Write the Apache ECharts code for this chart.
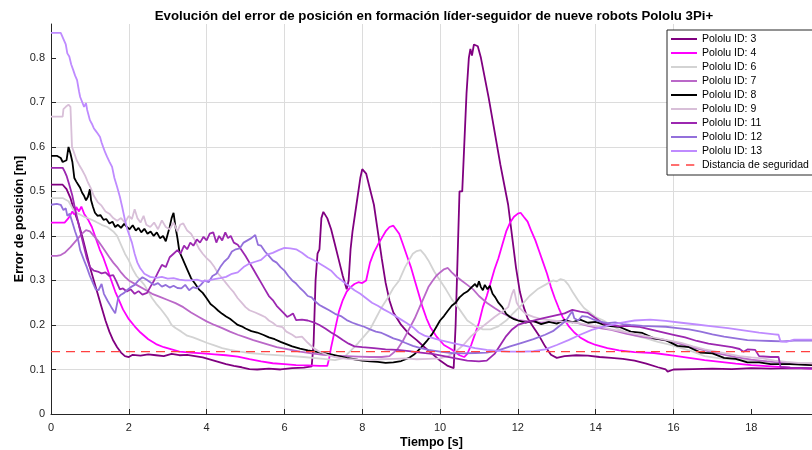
<!DOCTYPE html>
<html><head><meta charset="utf-8">
<script src="https://cdn.jsdelivr.net/npm/echarts@6/dist/echarts.min.js"></script>
<style>html,body{margin:0;padding:0;background:#fff}#c{width:812px;height:450px}</style>
</head><body><div id="c"></div>
<script>
const titleText = 'Evolución del error de posición en formación líder-seguidor de nueve robots Pololu 3Pi+';
const xName = 'Tiempo [s]';
const yName = 'Error de posición [m]';
const xTicks = [0,2,4,6,8,10,12,14,16,18];
const yTicks = [0,0.1,0.2,0.3,0.4,0.5,0.6,0.7,0.8];
const seriesNames = ['Pololu ID: 3','Pololu ID: 4','Pololu ID: 6','Pololu ID: 7','Pololu ID: 8','Pololu ID: 9','Pololu ID: 11','Pololu ID: 12','Pololu ID: 13'];
const safetyName = 'Distancia de seguridad';
const safetyValue = 0.14;
const tEnd = 19.56;

const s3 = [[0,0.515],[0.3,0.515],[0.4,0.505],[0.5,0.485],[0.6,0.455],[0.7,0.43],[0.8,0.4],[0.9,0.365],[1.0,0.33],[1.1,0.3],[1.2,0.27],[1.3,0.24],[1.4,0.21],[1.5,0.185],[1.6,0.165],[1.7,0.15],[1.8,0.138],[1.9,0.13],[2.0,0.128],[2.1,0.133],[2.3,0.131],[2.5,0.134],[2.7,0.132],[2.9,0.13],[3.1,0.135],[3.3,0.132],[3.5,0.133],[3.7,0.13],[3.9,0.127],[4.1,0.122],[4.3,0.117],[4.5,0.112],[4.7,0.108],[4.9,0.105],[5.1,0.101],[5.3,0.1],[5.6,0.102],[5.9,0.1],[6.2,0.103],[6.5,0.104],[6.7,0.107],[6.75,0.16],[6.8,0.3],[6.85,0.36],[6.9,0.37],[6.95,0.44],[7.0,0.454],[7.1,0.44],[7.2,0.415],[7.3,0.38],[7.4,0.345],[7.5,0.31],[7.6,0.28],[7.65,0.3],[7.7,0.37],[7.75,0.41],[7.85,0.47],[7.95,0.53],[8.0,0.55],[8.05,0.553],[8.1,0.54],[8.2,0.505],[8.3,0.47],[8.4,0.41],[8.5,0.35],[8.6,0.295],[8.7,0.255],[8.8,0.228],[9.0,0.2],[9.2,0.18],[9.4,0.166],[9.6,0.15],[9.8,0.135],[10.0,0.12],[10.2,0.108],[10.35,0.103],[10.4,0.2],[10.45,0.35],[10.5,0.5],[10.57,0.5],[10.62,0.6],[10.68,0.72],[10.74,0.8],[10.78,0.82],[10.82,0.805],[10.87,0.83],[10.92,0.834],[10.97,0.826],[11.05,0.8],[11.15,0.755],[11.25,0.71],[11.35,0.66],[11.45,0.61],[11.55,0.56],[11.65,0.515],[11.75,0.47],[11.85,0.4],[11.95,0.33],[12.05,0.275],[12.15,0.24],[12.25,0.215],[12.4,0.195],[12.55,0.175],[12.7,0.152],[12.85,0.133],[13.0,0.126],[13.2,0.13],[13.5,0.132],[13.8,0.131],[14.1,0.128],[14.4,0.126],[14.7,0.124],[15.0,0.12],[15.3,0.113],[15.6,0.105],[15.8,0.1],[15.85,0.095],[16.0,0.1],[16.5,0.101],[17.0,0.102],[17.5,0.101],[18.0,0.103],[18.5,0.102],[19.0,0.103],[19.56,0.102]];

const s4 = [[0,0.43],[0.35,0.43],[0.45,0.44],[0.55,0.455],[0.6,0.448],[0.65,0.465],[0.72,0.455],[0.78,0.466],[0.85,0.45],[0.95,0.437],[1.05,0.42],[1.15,0.395],[1.25,0.37],[1.35,0.35],[1.45,0.325],[1.55,0.3],[1.65,0.275],[1.75,0.255],[1.85,0.235],[2.0,0.213],[2.15,0.197],[2.3,0.183],[2.5,0.168],[2.7,0.157],[2.9,0.15],[3.1,0.145],[3.3,0.14],[3.6,0.138],[3.9,0.136],[4.2,0.134],[4.5,0.132],[4.8,0.129],[5.1,0.123],[5.4,0.118],[5.7,0.114],[6.0,0.112],[6.3,0.11],[6.6,0.109],[6.9,0.108],[7.1,0.108],[7.15,0.125],[7.2,0.15],[7.3,0.19],[7.4,0.23],[7.5,0.256],[7.6,0.275],[7.7,0.285],[7.8,0.292],[7.9,0.296],[8.0,0.294],[8.1,0.3],[8.2,0.34],[8.3,0.363],[8.4,0.38],[8.5,0.395],[8.6,0.41],[8.7,0.42],[8.8,0.423],[8.85,0.42],[8.95,0.405],[9.05,0.38],[9.15,0.355],[9.25,0.33],[9.35,0.3],[9.45,0.27],[9.55,0.24],[9.65,0.215],[9.75,0.195],[9.9,0.175],[10.1,0.155],[10.3,0.145],[10.5,0.132],[10.62,0.128],[10.7,0.135],[10.8,0.155],[10.9,0.18],[11.0,0.205],[11.1,0.24],[11.2,0.265],[11.3,0.295],[11.4,0.325],[11.5,0.35],[11.6,0.38],[11.7,0.41],[11.8,0.43],[11.9,0.443],[12.0,0.45],[12.07,0.452],[12.15,0.443],[12.25,0.432],[12.35,0.41],[12.45,0.39],[12.55,0.365],[12.65,0.34],[12.75,0.315],[12.85,0.285],[12.95,0.26],[13.05,0.238],[13.15,0.218],[13.3,0.198],[13.45,0.183],[13.6,0.172],[13.8,0.162],[14.0,0.155],[14.3,0.148],[14.6,0.143],[15.0,0.139],[15.5,0.137],[16.0,0.131],[16.4,0.126],[16.8,0.121],[17.2,0.117],[17.6,0.113],[18.0,0.11],[18.5,0.107],[19.0,0.104],[19.56,0.102]];

const s6 = [[0,0.485],[0.3,0.485],[0.45,0.478],[0.6,0.455],[0.7,0.45],[0.85,0.443],[1.0,0.438],[1.15,0.432],[1.3,0.425],[1.45,0.42],[1.6,0.41],[1.7,0.4],[1.8,0.38],[1.9,0.36],[2.0,0.345],[2.1,0.325],[2.2,0.31],[2.3,0.3],[2.4,0.29],[2.5,0.275],[2.6,0.26],[2.7,0.248],[2.8,0.238],[2.9,0.227],[3.0,0.215],[3.1,0.2],[3.2,0.193],[3.35,0.185],[3.5,0.176],[3.65,0.172],[3.8,0.167],[4.0,0.16],[4.2,0.154],[4.4,0.148],[4.6,0.144],[4.86,0.14],[5.1,0.137],[5.5,0.134],[6.0,0.131],[6.5,0.128],[7.0,0.124],[7.3,0.121],[7.5,0.125],[7.7,0.142],[7.9,0.16],[8.05,0.175],[8.2,0.19],[8.35,0.215],[8.5,0.24],[8.65,0.26],[8.8,0.283],[8.95,0.3],[9.1,0.33],[9.2,0.345],[9.3,0.36],[9.4,0.366],[9.5,0.368],[9.6,0.358],[9.7,0.345],[9.85,0.32],[10.0,0.3],[10.15,0.28],[10.3,0.258],[10.5,0.235],[10.7,0.21],[10.9,0.198],[11.1,0.19],[11.3,0.19],[11.5,0.197],[11.7,0.21],[11.9,0.228],[12.1,0.245],[12.3,0.265],[12.5,0.28],[12.7,0.29],[12.9,0.3],[13.0,0.298],[13.1,0.303],[13.2,0.3],[13.3,0.29],[13.4,0.275],[13.55,0.255],[13.7,0.238],[13.85,0.228],[14.0,0.218],[14.2,0.21],[14.4,0.2],[14.6,0.19],[14.8,0.182],[15.0,0.176],[15.3,0.17],[15.6,0.162],[15.9,0.156],[16.2,0.148],[16.5,0.14],[16.8,0.13],[17.2,0.125],[17.6,0.122],[18.0,0.12],[18.5,0.118],[19.0,0.115],[19.56,0.114]];

const s7 = [[0,0.355],[0.15,0.355],[0.25,0.357],[0.35,0.362],[0.5,0.375],[0.6,0.385],[0.7,0.395],[0.8,0.405],[0.9,0.413],[1.0,0.41],[1.1,0.4],[1.2,0.39],[1.3,0.378],[1.4,0.365],[1.5,0.352],[1.6,0.34],[1.7,0.33],[1.8,0.318],[1.9,0.308],[2.0,0.3],[2.2,0.29],[2.4,0.28],[2.6,0.27],[2.8,0.263],[3.0,0.256],[3.2,0.249],[3.4,0.24],[3.6,0.228],[3.8,0.218],[4.0,0.208],[4.2,0.2],[4.4,0.193],[4.6,0.185],[4.8,0.178],[5.0,0.172],[5.2,0.166],[5.5,0.158],[5.8,0.15],[6.1,0.145],[6.4,0.14],[6.7,0.136],[7.0,0.133],[7.3,0.131],[7.6,0.13],[7.9,0.129],[8.2,0.128],[8.5,0.128],[8.7,0.13],[8.9,0.145],[9.05,0.165],[9.2,0.19],[9.35,0.215],[9.5,0.245],[9.6,0.265],[9.7,0.285],[9.8,0.298],[9.9,0.31],[10.0,0.318],[10.1,0.325],[10.2,0.328],[10.3,0.318],[10.4,0.31],[10.55,0.3],[10.7,0.29],[10.85,0.28],[11.0,0.265],[11.2,0.25],[11.4,0.238],[11.6,0.227],[11.8,0.218],[12.0,0.211],[12.3,0.208],[12.6,0.205],[12.9,0.207],[13.2,0.21],[13.5,0.205],[13.8,0.198],[14.1,0.193],[14.4,0.189],[14.8,0.18],[15.2,0.173],[15.6,0.168],[16.0,0.162],[16.4,0.152],[16.8,0.143],[17.2,0.135],[17.6,0.128],[18.0,0.122],[18.4,0.118],[18.8,0.115],[19.2,0.112],[19.56,0.11]];

const s8 = [[0,0.58],[0.15,0.58],[0.25,0.575],[0.3,0.566],[0.35,0.565],[0.4,0.57],[0.45,0.6],[0.5,0.585],[0.55,0.566],[0.6,0.53],[0.65,0.522],[0.7,0.515],[0.75,0.508],[0.8,0.497],[0.85,0.49],[0.9,0.48],[0.95,0.488],[1.0,0.505],[1.03,0.48],[1.08,0.465],[1.13,0.452],[1.2,0.445],[1.27,0.447],[1.35,0.436],[1.42,0.438],[1.5,0.428],[1.58,0.432],[1.65,0.42],[1.72,0.425],[1.8,0.418],[1.88,0.427],[1.95,0.42],[2.02,0.415],[2.1,0.424],[2.18,0.412],[2.25,0.418],[2.32,0.408],[2.4,0.416],[2.48,0.405],[2.56,0.41],[2.64,0.4],[2.72,0.408],[2.8,0.395],[2.88,0.4],[2.95,0.388],[3.0,0.39],[3.05,0.42],[3.1,0.44],[3.15,0.452],[3.2,0.42],[3.25,0.395],[3.3,0.365],[3.4,0.345],[3.5,0.325],[3.6,0.305],[3.7,0.293],[3.8,0.28],[3.9,0.272],[4.0,0.26],[4.1,0.247],[4.2,0.24],[4.3,0.232],[4.4,0.225],[4.5,0.219],[4.6,0.214],[4.7,0.207],[4.8,0.2],[4.9,0.197],[5.0,0.192],[5.15,0.186],[5.3,0.183],[5.45,0.178],[5.6,0.172],[5.75,0.168],[5.9,0.162],[6.05,0.157],[6.2,0.152],[6.4,0.147],[6.6,0.143],[6.8,0.14],[7.0,0.137],[7.2,0.134],[7.4,0.13],[7.6,0.126],[7.8,0.123],[8.0,0.12],[8.2,0.118],[8.4,0.117],[8.6,0.115],[8.8,0.116],[9.0,0.119],[9.2,0.126],[9.35,0.135],[9.5,0.148],[9.65,0.163],[9.8,0.18],[9.9,0.195],[10.0,0.21],[10.1,0.22],[10.2,0.232],[10.3,0.243],[10.4,0.25],[10.5,0.262],[10.6,0.27],[10.7,0.275],[10.8,0.284],[10.85,0.28],[10.9,0.292],[10.95,0.285],[11.0,0.298],[11.05,0.285],[11.1,0.278],[11.15,0.29],[11.22,0.28],[11.28,0.288],[11.35,0.27],[11.42,0.262],[11.5,0.25],[11.6,0.24],[11.7,0.225],[11.8,0.218],[11.9,0.213],[12.0,0.21],[12.2,0.205],[12.4,0.209],[12.6,0.202],[12.8,0.207],[13.0,0.203],[13.2,0.211],[13.4,0.206],[13.6,0.212],[13.8,0.205],[14.0,0.207],[14.3,0.198],[14.6,0.196],[14.9,0.185],[15.2,0.182],[15.5,0.17],[15.8,0.166],[16.1,0.153],[16.4,0.15],[16.7,0.138],[17.0,0.136],[17.3,0.126],[17.6,0.124],[17.9,0.116],[18.2,0.116],[18.5,0.112],[19.0,0.112],[19.56,0.11]];

const s9 = [[0,0.668],[0.3,0.668],[0.32,0.685],[0.38,0.69],[0.45,0.695],[0.5,0.69],[0.54,0.6],[0.6,0.585],[0.66,0.57],[0.72,0.56],[0.8,0.548],[0.88,0.535],[0.95,0.52],[1.02,0.508],[1.1,0.49],[1.2,0.476],[1.3,0.468],[1.4,0.455],[1.5,0.45],[1.6,0.44],[1.7,0.434],[1.8,0.44],[1.9,0.43],[2.0,0.445],[2.08,0.438],[2.15,0.46],[2.22,0.44],[2.3,0.43],[2.38,0.445],[2.45,0.425],[2.55,0.42],[2.65,0.43],[2.75,0.415],[2.85,0.435],[2.95,0.42],[3.05,0.415],[3.15,0.43],[3.25,0.41],[3.32,0.425],[3.4,0.428],[3.5,0.412],[3.6,0.405],[3.7,0.39],[3.8,0.372],[3.9,0.36],[4.0,0.35],[4.1,0.342],[4.2,0.33],[4.3,0.315],[4.4,0.305],[4.5,0.294],[4.6,0.283],[4.7,0.273],[4.8,0.26],[4.9,0.25],[5.0,0.24],[5.1,0.233],[5.25,0.228],[5.4,0.222],[5.5,0.218],[5.6,0.21],[5.7,0.205],[5.8,0.198],[5.95,0.195],[6.05,0.185],[6.2,0.178],[6.3,0.172],[6.45,0.174],[6.6,0.16],[6.75,0.148],[6.9,0.14],[7.1,0.133],[7.3,0.128],[7.6,0.124],[7.9,0.122],[8.2,0.121],[8.5,0.123],[8.8,0.124],[9.1,0.125],[9.4,0.123],[9.7,0.124],[10.0,0.125],[10.2,0.13],[10.4,0.14],[10.6,0.155],[10.8,0.175],[11.0,0.19],[11.2,0.204],[11.4,0.218],[11.6,0.23],[11.75,0.24],[11.85,0.27],[11.9,0.28],[11.97,0.25],[12.05,0.238],[12.2,0.225],[12.4,0.218],[12.6,0.213],[12.9,0.21],[13.2,0.207],[13.5,0.205],[13.8,0.2],[14.1,0.196],[14.4,0.19],[14.7,0.185],[15.0,0.18],[15.3,0.175],[15.6,0.17],[15.9,0.165],[16.2,0.16],[16.5,0.152],[16.8,0.145],[17.1,0.14],[17.4,0.135],[17.7,0.13],[18.0,0.127],[18.3,0.125],[18.6,0.12],[18.9,0.117],[19.2,0.115],[19.56,0.114]];

const s11 = [[0,0.553],[0.3,0.553],[0.35,0.545],[0.4,0.535],[0.47,0.515],[0.55,0.49],[0.62,0.46],[0.7,0.43],[0.78,0.4],[0.85,0.375],[0.92,0.35],[1.0,0.33],[1.1,0.322],[1.2,0.32],[1.3,0.316],[1.4,0.318],[1.5,0.31],[1.6,0.312],[1.68,0.298],[1.77,0.28],[1.85,0.282],[1.95,0.275],[2.05,0.28],[2.15,0.27],[2.25,0.276],[2.35,0.268],[2.47,0.272],[2.55,0.285],[2.65,0.3],[2.75,0.318],[2.85,0.335],[2.95,0.33],[3.05,0.352],[3.15,0.36],[3.25,0.368],[3.33,0.36],[3.42,0.378],[3.5,0.37],[3.58,0.385],[3.66,0.378],[3.75,0.392],[3.83,0.385],[3.92,0.398],[4.0,0.39],[4.08,0.405],[4.17,0.408],[4.25,0.385],[4.32,0.4],[4.4,0.39],[4.48,0.408],[4.55,0.395],[4.62,0.4],[4.7,0.385],[4.8,0.38],[4.9,0.368],[5.0,0.355],[5.1,0.34],[5.2,0.325],[5.3,0.31],[5.4,0.295],[5.5,0.28],[5.6,0.265],[5.7,0.256],[5.8,0.243],[5.9,0.234],[6.0,0.225],[6.07,0.218],[6.15,0.222],[6.22,0.226],[6.3,0.211],[6.45,0.212],[6.6,0.21],[6.75,0.206],[6.9,0.2],[7.05,0.192],[7.2,0.183],[7.35,0.175],[7.5,0.166],[7.65,0.158],[7.8,0.152],[8.0,0.15],[8.3,0.148],[8.6,0.145],[8.9,0.144],[9.2,0.141],[9.5,0.138],[9.8,0.135],[10.1,0.13],[10.4,0.125],[10.7,0.12],[11.0,0.118],[11.2,0.12],[11.4,0.135],[11.55,0.155],[11.7,0.175],[11.85,0.19],[12.0,0.2],[12.2,0.206],[12.4,0.21],[12.6,0.214],[12.8,0.218],[13.0,0.222],[13.2,0.226],[13.4,0.234],[13.6,0.23],[13.8,0.227],[14.0,0.215],[14.2,0.203],[14.4,0.2],[14.6,0.197],[14.8,0.198],[15.1,0.196],[15.4,0.19],[15.7,0.184],[16.0,0.178],[16.3,0.172],[16.6,0.164],[16.9,0.158],[17.2,0.154],[17.5,0.15],[17.7,0.146],[17.8,0.14],[17.9,0.145],[18.1,0.144],[18.2,0.13],[18.5,0.128],[18.7,0.128],[18.75,0.106],[19.0,0.104],[19.56,0.103]];

const s12 = [[0,0.47],[0.15,0.472],[0.25,0.47],[0.32,0.458],[0.38,0.462],[0.42,0.445],[0.48,0.45],[0.55,0.43],[0.62,0.41],[0.7,0.39],[0.75,0.368],[0.85,0.345],[0.92,0.33],[1.0,0.31],[1.08,0.294],[1.15,0.28],[1.22,0.278],[1.3,0.292],[1.36,0.27],[1.45,0.255],[1.55,0.24],[1.65,0.226],[1.7,0.222],[1.73,0.262],[1.8,0.268],[1.88,0.272],[1.95,0.278],[2.05,0.285],[2.15,0.29],[2.25,0.3],[2.35,0.307],[2.45,0.302],[2.55,0.296],[2.65,0.29],[2.75,0.294],[2.85,0.286],[2.95,0.29],[3.05,0.284],[3.15,0.288],[3.25,0.283],[3.35,0.282],[3.45,0.29],[3.55,0.278],[3.65,0.285],[3.75,0.282],[3.85,0.29],[3.95,0.3],[4.05,0.296],[4.15,0.31],[4.25,0.315],[4.35,0.33],[4.45,0.342],[4.55,0.35],[4.65,0.365],[4.75,0.37],[4.85,0.372],[4.95,0.385],[5.05,0.39],[5.15,0.395],[5.25,0.402],[5.32,0.38],[5.4,0.378],[5.5,0.365],[5.6,0.355],[5.7,0.345],[5.8,0.34],[5.9,0.33],[6.0,0.322],[6.1,0.31],[6.2,0.3],[6.3,0.293],[6.4,0.283],[6.5,0.275],[6.6,0.265],[6.7,0.262],[6.8,0.252],[6.9,0.245],[7.0,0.24],[7.15,0.233],[7.3,0.225],[7.45,0.22],[7.6,0.211],[7.75,0.205],[7.9,0.2],[8.05,0.196],[8.2,0.19],[8.35,0.185],[8.5,0.182],[8.65,0.176],[8.8,0.17],[8.95,0.166],[9.1,0.16],[9.3,0.153],[9.5,0.148],[9.7,0.144],[10.0,0.14],[10.3,0.137],[10.6,0.136],[10.9,0.137],[11.2,0.138],[11.5,0.143],[11.8,0.152],[12.1,0.16],[12.4,0.168],[12.7,0.178],[12.9,0.186],[13.1,0.2],[13.25,0.211],[13.35,0.225],[13.4,0.23],[13.45,0.215],[13.55,0.21],[13.65,0.22],[13.8,0.218],[13.95,0.212],[14.1,0.208],[14.3,0.204],[14.5,0.206],[14.7,0.202],[14.9,0.2],[15.2,0.198],[15.5,0.197],[15.8,0.196],[16.1,0.193],[16.4,0.19],[16.7,0.185],[17.0,0.179],[17.3,0.174],[17.6,0.17],[17.9,0.166],[18.2,0.165],[18.5,0.164],[18.8,0.163],[19.1,0.165],[19.56,0.165]];

const s13 = [[0,0.856],[0.25,0.856],[0.3,0.852],[0.38,0.83],[0.42,0.81],[0.47,0.803],[0.52,0.785],[0.57,0.773],[0.62,0.76],[0.67,0.75],[0.72,0.725],[0.75,0.712],[0.8,0.715],[0.85,0.69],[0.9,0.698],[0.93,0.683],[0.97,0.67],[1.0,0.66],[1.05,0.652],[1.1,0.642],[1.15,0.636],[1.2,0.63],[1.26,0.622],[1.3,0.61],[1.34,0.6],[1.39,0.588],[1.44,0.578],[1.5,0.567],[1.57,0.555],[1.63,0.53],[1.7,0.51],[1.77,0.488],[1.83,0.465],[1.9,0.436],[1.96,0.415],[2.02,0.4],[2.08,0.385],[2.15,0.36],[2.22,0.34],[2.29,0.328],[2.4,0.315],[2.55,0.308],[2.7,0.306],[2.85,0.308],[3.0,0.304],[3.15,0.305],[3.3,0.302],[3.45,0.3],[3.6,0.3],[3.75,0.302],[3.9,0.298],[4.05,0.3],[4.2,0.303],[4.35,0.305],[4.5,0.308],[4.65,0.315],[4.8,0.318],[4.95,0.33],[5.1,0.338],[5.25,0.342],[5.4,0.346],[5.55,0.358],[5.7,0.362],[5.85,0.368],[6.0,0.373],[6.15,0.372],[6.3,0.37],[6.45,0.362],[6.6,0.352],[6.75,0.346],[6.9,0.338],[7.05,0.33],[7.2,0.322],[7.35,0.308],[7.5,0.298],[7.65,0.288],[7.8,0.278],[7.95,0.27],[8.1,0.26],[8.25,0.25],[8.4,0.243],[8.55,0.235],[8.7,0.228],[8.85,0.22],[9.0,0.212],[9.15,0.204],[9.3,0.195],[9.45,0.183],[9.6,0.176],[9.75,0.172],[10.0,0.166],[10.3,0.16],[10.6,0.154],[10.9,0.148],[11.2,0.144],[11.5,0.142],[11.8,0.14],[12.1,0.14],[12.4,0.141],[12.7,0.145],[13.0,0.155],[13.3,0.166],[13.6,0.178],[13.9,0.189],[14.2,0.196],[14.6,0.204],[15.0,0.21],[15.4,0.212],[15.8,0.209],[16.2,0.205],[16.6,0.201],[17.0,0.197],[17.4,0.193],[17.8,0.188],[18.2,0.183],[18.6,0.179],[18.7,0.178],[18.75,0.163],[18.9,0.162],[19.1,0.167],[19.56,0.167]];

const seriesData = [s3, s4, s6, s7, s8, s9, s11, s12, s13];
const colors = ['#800080','#FF00FF','#D3D3D3','#BA68C8','#000000','#D8BFD8','#9C27B0','#9370DB','#BF8BFF'];

const solidIcon = 'path://M0,0h0.01v0.01h-0.01z M0,5h26v2h-26z M25.99,11.99h0.01v0.01h-0.01z';
const dashIcon = 'path://M0,0h0.01v0.01h-0.01z M0,5.3h8.3v1.4h-8.3z M15,5.3h8.3v1.4h-8.3z M25.99,11.99h0.01v0.01h-0.01z';

const chart = echarts.init(document.getElementById('c'), null, {renderer:'canvas'});
const font = '"Liberation Sans", Arial, Helvetica, sans-serif';
const series = seriesData.map((d, i) => ({
  name: seriesNames[i], type: 'line', data: d, showSymbol: false, symbol: 'none',
  lineStyle: {color: colors[i], width: 1.8}, itemStyle: {color: colors[i]}, z: 2 + i, silent: true
}));
series.push({
  name: safetyName, type: 'line', data: [[0, safetyValue], [tEnd, safetyValue]], showSymbol: false, symbol: 'none',
  lineStyle: {color: '#FF4040', width: 1.3, type: [9, 6]}, itemStyle: {color: '#FF4040'}, z: 20, silent: true
});
const legendData = seriesNames.map(n => ({name: n, icon: solidIcon})).concat([{name: safetyName, icon: dashIcon}]);
chart.setOption({
  animation: false,
  backgroundColor: '#fff',
  title: {text: titleText, left: 434, top: 10, textAlign: 'center', padding: 0,
    textStyle: {fontFamily: font, fontSize: 13.25, fontWeight: 'bold', color: '#000'}},
  grid: {left: 51, top: 24, right: 0, bottom: 36, containLabel: false, outerBoundsMode: 'none'},
  legend: {orient: 'vertical', left: 667, top: 30, padding: [3, 4, 4, 4], itemGap: 2, itemWidth: 26, itemHeight: 12,
    symbolKeepAspect: false,
    backgroundColor: '#fff', borderColor: '#262626', borderWidth: 1,
    itemStyle: {borderWidth: 0},
    textStyle: {fontFamily: font, fontSize: 10.5, color: '#000', lineHeight: 12},
    data: legendData},
  xAxis: {type: 'value', min: 0, max: tEnd, interval: 2,
    name: xName, nameLocation: 'middle', nameGap: 22, nameMoveOverlap: false,
    nameTextStyle: {fontFamily: font, fontSize: 12.5, fontWeight: 'bold', color: '#000'},
    axisLine: {lineStyle: {color: '#262626', width: 1}},
    axisTick: {inside: true, length: 5, lineStyle: {color: '#262626'}, customValues: xTicks},
    axisLabel: {fontFamily: font, fontSize: 11, color: '#262626', margin: 8, customValues: xTicks},
    splitLine: {show: true, showMaxLine: false, lineStyle: {color: '#dcdcdc', width: 1}}},
  yAxis: {type: 'value', min: 0, max: 0.876, interval: 0.1,
    name: yName, nameLocation: 'middle', nameGap: 25, nameRotate: 90, nameMoveOverlap: false,
    nameTextStyle: {fontFamily: font, fontSize: 12.5, fontWeight: 'bold', color: '#000'},
    axisLine: {show: true, lineStyle: {color: '#262626', width: 1}},
    axisTick: {show: true, inside: true, length: 5, lineStyle: {color: '#262626'}, customValues: yTicks},
    axisLabel: {fontFamily: font, fontSize: 11, color: '#262626', margin: 6, customValues: yTicks,
      formatter: v => String(Math.round(v * 10) / 10)},
    splitLine: {show: true, showMaxLine: false, lineStyle: {color: '#dcdcdc', width: 1}}},
  series: series
});
</script></body></html>
